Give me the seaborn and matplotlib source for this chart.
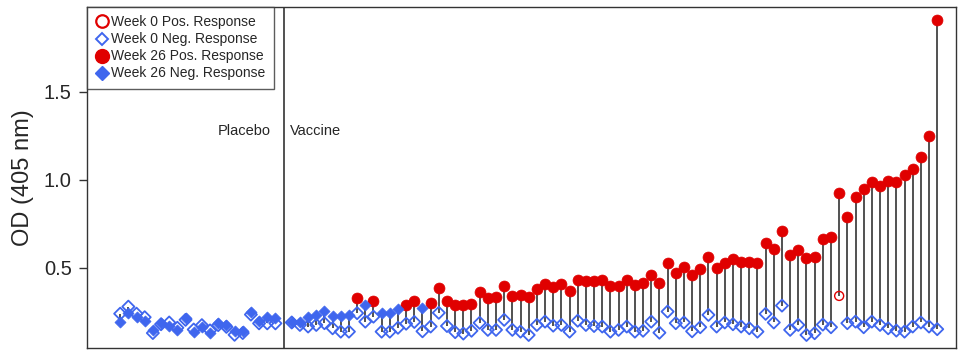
import numpy as np
import pandas as pd
import matplotlib
matplotlib.use("Agg")
import matplotlib.pyplot as plt
from matplotlib.lines import Line2D
import seaborn as sns

# ---------------- data ----------------
placebo_w0 = [0.24, 0.28, 0.24, 0.22, 0.13, 0.18, 0.19, 0.16, 0.205, 0.15,
              0.175, 0.145, 0.175, 0.165, 0.12, 0.13, 0.235, 0.185, 0.185, 0.185]
placebo_w26 = [0.19, 0.245, 0.22, 0.20, 0.15, 0.185, 0.17, 0.148, 0.215, 0.138,
               0.167, 0.132, 0.186, 0.176, 0.14, 0.14, 0.252, 0.20, 0.22, 0.215]

vaccine_w0 = [0.19, 0.176, 0.167, 0.176, 0.186, 0.157, 0.138, 0.138, 0.243, 0.195,
              0.223, 0.138, 0.138, 0.16, 0.183, 0.193, 0.14, 0.167, 0.245, 0.17,
              0.135, 0.127, 0.143, 0.188, 0.148, 0.148, 0.205, 0.148, 0.138, 0.119,
              0.176, 0.195, 0.172, 0.176, 0.138, 0.20, 0.176, 0.17, 0.167, 0.138,
              0.148, 0.167, 0.138, 0.143, 0.195, 0.132, 0.252, 0.186, 0.19, 0.14,
              0.163, 0.233, 0.167, 0.19, 0.18, 0.167, 0.157, 0.138, 0.239, 0.19,
              0.286, 0.148, 0.176, 0.119, 0.129, 0.178, 0.163, 0.341, 0.186, 0.195,
              0.163, 0.195, 0.176, 0.157, 0.144, 0.138, 0.167, 0.19, 0.167, 0.152]
vaccine_w26 = [0.19, 0.19, 0.223, 0.233, 0.257, 0.227, 0.227, 0.233, 0.328, 0.287,
               0.314, 0.243, 0.243, 0.266, 0.288, 0.314, 0.27, 0.302, 0.385, 0.314,
               0.29, 0.29, 0.295, 0.365, 0.328, 0.335, 0.398, 0.341, 0.347, 0.333,
               0.379, 0.409, 0.394, 0.409, 0.371, 0.432, 0.426, 0.426, 0.432, 0.398,
               0.398, 0.432, 0.403, 0.413, 0.46, 0.413, 0.527, 0.47, 0.504, 0.46,
               0.492, 0.561, 0.498, 0.53, 0.549, 0.536, 0.536, 0.53, 0.64, 0.606,
               0.712, 0.574, 0.604, 0.555, 0.561, 0.665, 0.678, 0.928, 0.792, 0.902,
               0.947, 0.99, 0.968, 0.996, 0.99, 1.028, 1.06, 1.133, 1.25, 1.909]
# vaccine subject numbers (0-based within vaccine group) with negative week-26 response
vaccine_w26_neg = [0, 1, 2, 3, 4, 5, 6, 7, 9, 11, 12, 13, 16]
# vaccine subject with positive week-0 response
vaccine_w0_pos = [67]

legend_labels = ["Week 0 Pos. Response", "Week 0 Neg. Response",
                 "Week 26 Pos. Response", "Week 26 Neg. Response"]
group_labels = ["Placebo", "Vaccine"]

# ---------------- table ----------------
n_p, n_v = len(placebo_w0), len(vaccine_w0)
pos = np.concatenate([np.arange(n_p), np.arange(n_v) + n_p + 1])
w0 = np.array(placebo_w0 + vaccine_w0)
w26 = np.array(placebo_w26 + vaccine_w26)
w0_resp = np.array(["neg"] * (n_p + n_v), dtype=object)
w26_resp = np.array(["neg"] * n_p + ["pos"] * n_v, dtype=object)
for k in vaccine_w26_neg:
    w26_resp[n_p + k] = "neg"
for k in vaccine_w0_pos:
    w0_resp[n_p + k] = "pos"
df = pd.DataFrame({"pos": pos, "w0": w0, "w26": w26,
                   "w0_resp": w0_resp, "w26_resp": w26_resp})

# ---------------- plot ----------------
sns.set_theme(style="white")
plt.rcParams["font.family"] = ["Liberation Sans", "DejaVu Sans"]

RED = "#e00000"
BLUE = "#3f66ee"

fig = plt.figure(figsize=(9.6, 3.52), dpi=100)
ax = fig.add_axes([87 / 960, 4 / 352, (956 - 87) / 960, (345 - 4) / 352])

ax.vlines(df["pos"], df["w0"], df["w26"], color="#222222", lw=1.1, zorder=1)

sns.scatterplot(data=df[df.w26_resp == "pos"], x="pos", y="w26", ax=ax,
                marker="o", s=62, color=RED, edgecolor=RED, linewidth=0.5, zorder=3)
sns.scatterplot(data=df[df.w26_resp == "neg"], x="pos", y="w26", ax=ax,
                marker="D", s=32, color=BLUE, edgecolor=BLUE, linewidth=0.5, zorder=3)
sns.scatterplot(data=df[df.w0_resp == "neg"], x="pos", y="w0", ax=ax,
                marker="D", s=38, facecolor="none", edgecolor=BLUE, linewidth=1.3, zorder=4)
sns.scatterplot(data=df[df.w0_resp == "pos"], x="pos", y="w0", ax=ax,
                marker="o", s=42, facecolor="none", edgecolor=RED, linewidth=1.0, zorder=4)

ax.axvline(n_p, color="#222222", lw=1.1, zorder=0)
ax.text(n_p - 1.6, 1.28, group_labels[0], ha="right", va="center", fontsize=10.5)
ax.text(n_p + 0.8, 1.28, group_labels[1], ha="left", va="center", fontsize=10.5)

ax.set_xlim(-4.06, 102.3)
ax.set_ylim(0.045, 1.983)
ax.set_xticks([])
ax.set_yticks([0.5, 1.0, 1.5])
ax.set_yticklabels(["0.5", "1.0", "1.5"])
ax.tick_params(axis="y", length=6, width=1, color="#333333", labelsize=14.5, pad=5, left=True)
ax.set_xlabel("")
ax.set_ylabel("OD (405 nm)", fontsize=17, labelpad=7)
for sp in ax.spines.values():
    sp.set_visible(True)
    sp.set_color("#333333")
    sp.set_linewidth(1.0)

handles = [
    Line2D([], [], ls="none", marker="o", ms=9, mfc="none", mec=RED, mew=1.6),
    Line2D([], [], ls="none", marker="D", ms=6.5, mfc="none", mec=BLUE, mew=1.4),
    Line2D([], [], ls="none", marker="o", ms=10, mfc=RED, mec=RED),
    Line2D([], [], ls="none", marker="D", ms=7, mfc=BLUE, mec=BLUE),
]
leg = ax.legend(handles, legend_labels, loc="upper left", bbox_to_anchor=(0, 1),
                borderaxespad=0, fontsize=10, frameon=True, fancybox=False,
                handlelength=0.9, handletextpad=0.25, labelspacing=0.22,
                borderpad=0.6)
leg.get_frame().set_edgecolor("#333333")
leg.get_frame().set_linewidth(1.0)

fig.savefig("out.png", dpi=100)
